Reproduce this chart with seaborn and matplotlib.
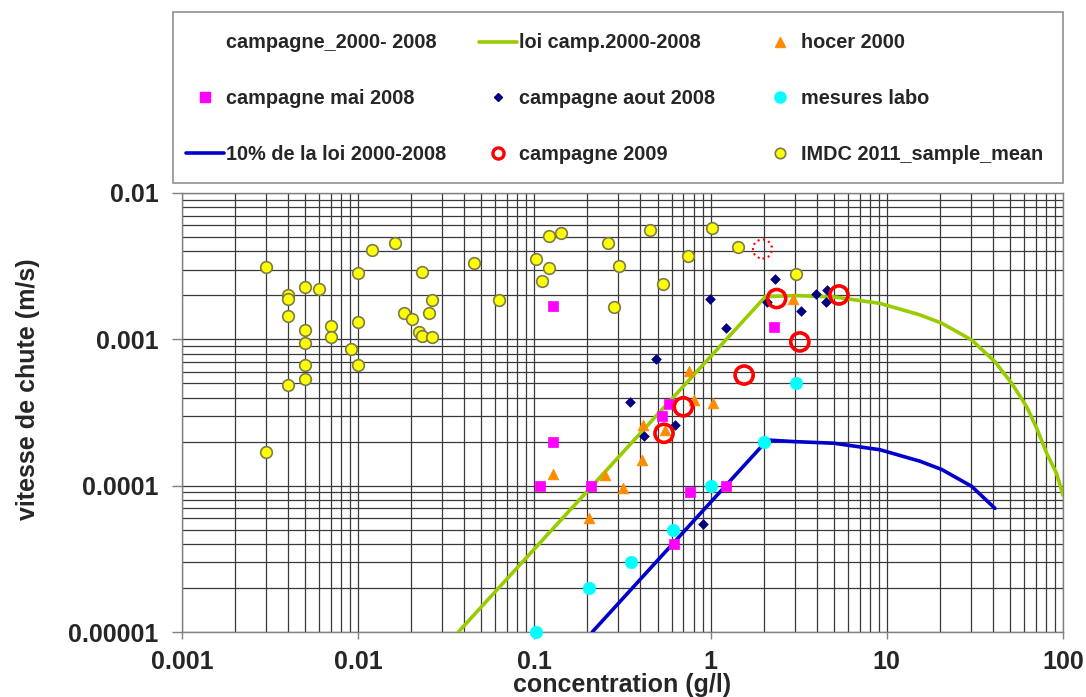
import matplotlib
matplotlib.use("Agg")
import matplotlib.pyplot as plt
from matplotlib.lines import Line2D
from matplotlib.patches import Rectangle
from matplotlib.ticker import LogLocator, NullFormatter
import seaborn as sns

sns.set_theme(style="white")
plt.rcParams['font.family'] = ['Liberation Sans', 'DejaVu Sans']
plt.rcParams['font.weight'] = 'bold'

# ---- settling law 2000-2008 (concentration g/l, settling velocity m/s)
law_c = [0.037, 2.05, 3.0, 5.0, 9.15, 15.4, 20.5, 30.3, 41.1, 51.2, 62.2, 71.0, 80.9, 92.0, 100.0]
law_w = [1.0e-5, 1.96e-3, 1.99e-3, 1.95e-3, 1.76e-3, 1.47e-3, 1.29e-3, 9.9e-4, 7.03e-4,
         5.0e-4, 3.46e-4, 2.46e-4, 1.66e-4, 1.21e-4, 8.6e-5]

# ---- 10 % of the law
law10_c = [0.213, 2.1, 3.0, 5.0, 9.15, 15.4, 20.5, 30.3, 41.1]
law10_w = [1.0e-5, 2.05e-4, 2.0e-4, 1.95e-4, 1.76e-4, 1.47e-4, 1.29e-4, 9.9e-5, 7.0e-5]

# ---- hocer 2000
hocer_c = [2.95, 0.75, 1.03, 0.80, 0.415, 0.55, 0.41, 0.127, 0.25, 0.32, 0.205]
hocer_w = [1.9e-3, 6.1e-4, 3.7e-4, 3.85e-4, 2.6e-4, 2.4e-4, 1.5e-4, 1.21e-4, 1.18e-4, 9.6e-5, 6.0e-5]

# ---- campagne mai 2008
mai_c = [0.127, 2.3, 0.128, 0.58, 0.53, 0.107, 0.21, 0.76, 1.22, 0.62]
mai_w = [1.7e-3, 1.21e-3, 2.0e-4, 3.6e-4, 3.0e-4, 1.0e-4, 1.0e-4, 9.0e-5, 1.0e-4, 4.0e-5]

# ---- campagne aout 2008
aout_c = [2.32, 2.08, 3.96, 4.56, 4.5, 3.26, 0.99, 1.22, 0.49, 0.35, 0.63, 0.42, 0.9]
aout_w = [2.58e-3, 1.81e-3, 2.03e-3, 2.17e-3, 1.79e-3, 1.55e-3, 1.9e-3, 1.19e-3, 7.3e-4,
          3.75e-4, 2.6e-4, 2.18e-4, 5.5e-5]

# ---- mesures labo
labo_c = [3.05, 2.02, 1.0, 0.61, 0.353, 0.203, 0.102]
labo_w = [5.05e-4, 2.0e-4, 1.0e-4, 5.0e-5, 3.0e-5, 2.0e-5, 1.0e-5]

# ---- campagne 2009
c2009_c = [2.37, 5.35, 3.21, 1.55, 0.70, 0.544]
c2009_w = [1.9e-3, 2.01e-3, 9.6e-4, 5.7e-4, 3.46e-4, 2.28e-4]
c2009_dotted_c = [1.97]
c2009_dotted_w = [4.14e-3]

# ---- IMDC 2011 sample mean
imdc_c = [0.003, 0.003, 0.004, 0.004, 0.004, 0.004, 0.005, 0.005, 0.005, 0.005, 0.005,
          0.006, 0.007, 0.007, 0.0091, 0.01, 0.01, 0.01, 0.012, 0.0162, 0.0183, 0.0203,
          0.0221, 0.0231, 0.0263, 0.0231, 0.0263, 0.0252, 0.0454, 0.063, 0.1017, 0.111,
          0.1216, 0.141, 0.1216, 0.263, 0.302, 0.283, 0.453, 0.747, 0.539, 1.014, 1.425, 3.04]
imdc_w = [3.13e-3, 1.71e-4, 2.01e-3, 1.89e-3, 1.45e-3, 4.9e-4, 2.29e-3, 1.16e-3, 9.5e-4,
          6.67e-4, 5.38e-4, 2.22e-3, 1.23e-3, 1.04e-3, 8.6e-4, 2.85e-3, 1.31e-3, 6.64e-4,
          4.06e-3, 4.53e-3, 1.51e-3, 1.37e-3, 1.13e-3, 1.06e-3, 1.04e-3, 2.87e-3, 1.86e-3,
          1.51e-3, 3.31e-3, 1.86e-3, 3.52e-3, 2.5e-3, 5.08e-3, 5.35e-3, 3.06e-3, 4.57e-3,
          3.17e-3, 1.67e-3, 5.59e-3, 3.71e-3, 2.39e-3, 5.79e-3, 4.3e-3, 2.79e-3]

x_ticks = [0.001, 0.01, 0.1, 1, 10, 100]
x_labels = ['0.001', '0.01', '0.1', '1', '10', '100']
y_ticks = [0.00001, 0.0001, 0.001, 0.01]
y_labels = ['0.00001', '0.0001', '0.001', '0.01']

W, H = 1086, 697
fig = plt.figure(figsize=(W / 100, H / 100), dpi=100)
ax = fig.add_axes([182 / W, 1 - 632 / H, (1063 - 182) / W, (632 - 193) / H])
ax.set_xscale('log')
ax.set_yscale('log')

GREEN = '#99CC00'
BLUE = '#0000CC'
ORANGE = '#FF8C00'
MAGENTA = '#FF00FF'
NAVY = '#000080'
CYAN = '#00FFFF'
RED = '#FF0000'
YELLOW = '#FFFF00'
YEDGE = '#7A7A4A'

sns.lineplot(x=law_c, y=law_w, sort=False, estimator=None, color=GREEN, linewidth=2.6,
             ax=ax, zorder=3)
sns.lineplot(x=law10_c, y=law10_w, sort=False, estimator=None, color=BLUE, linewidth=2.6,
             ax=ax, zorder=3)

sns.scatterplot(x=imdc_c, y=imdc_w, marker='o', s=70, color=YELLOW, edgecolor=YEDGE,
                linewidth=1.2, ax=ax, zorder=4)
sns.scatterplot(x=hocer_c, y=hocer_w, marker='^', s=60, color=ORANGE, edgecolor=ORANGE,
                linewidth=0.5, ax=ax, zorder=5)
sns.scatterplot(x=mai_c, y=mai_w, marker='s', s=55, color=MAGENTA, edgecolor=MAGENTA,
                linewidth=0.5, ax=ax, zorder=5)
sns.scatterplot(x=aout_c, y=aout_w, marker='D', s=24, color=NAVY, edgecolor=NAVY,
                linewidth=0.5, ax=ax, zorder=5)
sns.scatterplot(x=labo_c, y=labo_w, marker='o', s=80, color=CYAN, edgecolor=CYAN,
                linewidth=0.5, ax=ax, zorder=5, clip_on=False)
sns.scatterplot(x=c2009_c, y=c2009_w, marker='o', s=170, facecolor='none', edgecolor=RED,
                linewidth=2.6, ax=ax, zorder=6)
sns.scatterplot(x=c2009_dotted_c, y=c2009_dotted_w, marker='o', s=190, facecolor='none',
                edgecolor=RED, linewidth=1.5, linestyle=':', ax=ax, zorder=6)

ax.set_xlim(0.001, 100)
ax.set_ylim(0.00001, 0.01)

ax.xaxis.set_minor_locator(LogLocator(base=10, subs=range(2, 10), numticks=50))
ax.yaxis.set_minor_locator(LogLocator(base=10, subs=range(2, 10), numticks=50))
ax.xaxis.set_minor_formatter(NullFormatter())
ax.yaxis.set_minor_formatter(NullFormatter())
ax.set_xticks(x_ticks)
ax.set_xticklabels(x_labels)
ax.set_yticks(y_ticks)
ax.set_yticklabels(y_labels)

ax.grid(which='both', color='#3a3a3a', linewidth=0.9)
ax.set_axisbelow(True)
for sp in ax.spines.values():
    sp.set_color('#808080')
    sp.set_linewidth(1.0)

ax.tick_params(axis='y', which='major', left=True, length=7, width=1, color='#808080',
               labelsize=18, pad=10)
ax.tick_params(axis='y', which='minor', left=False)
ax.tick_params(axis='x', which='major', bottom=True, length=5, width=1, color='#808080',
               labelsize=18, pad=8)
ax.tick_params(axis='x', which='minor', bottom=False)
for lab in ax.get_xticklabels() + ax.get_yticklabels():
    lab.set_fontweight('bold')

ax.set_xlabel('concentration (g/l)', fontsize=18, fontweight='bold')
ax.xaxis.set_label_coords(0.5, -0.094)
ax.set_ylabel('vitesse de chute (m/s)', fontsize=18, fontweight='bold')
ax.yaxis.set_label_coords(-0.161, 0.553)

# ---- legend: a framed box holding three columns of entries
fig.add_artist(Rectangle((173 / W, 1 - 183 / H), (1063 - 173) / W, (183 - 12) / H,
                         transform=fig.transFigure, facecolor='white',
                         edgecolor='#909090', linewidth=1.2, zorder=1))


def mk(marker, face, edge, size, mew=1.0, ls='none'):
    return Line2D([], [], marker=marker, markerfacecolor=face, markeredgecolor=edge,
                  markersize=size, markeredgewidth=mew, linestyle=ls)


h_blank = Line2D([], [], linestyle='none', marker='none')
h_law = Line2D([], [], color=GREEN, linewidth=2.6)
h_law10 = Line2D([], [], color=BLUE, linewidth=2.6)
h_hocer = mk('^', ORANGE, ORANGE, 7)
h_mai = mk('s', MAGENTA, MAGENTA, 6.5)
h_aout = mk('D', NAVY, NAVY, 4.5)
h_labo = mk('o', CYAN, CYAN, 8)
h_2009 = mk('o', 'none', RED, 8, mew=2.4)
h_imdc = mk('o', YELLOW, YEDGE, 7.5, mew=1.2)

columns = [
    ([h_blank, h_mai, h_law10],
     ['campagne_2000- 2008', 'campagne mai 2008', '10% de la loi 2000-2008'], 186),
    ([h_law, h_aout, h_2009],
     ['loi camp.2000-2008', 'campagne aout 2008', 'campagne 2009'], 479),
    ([h_hocer, h_labo, h_imdc],
     ['hocer 2000', 'mesures labo', 'IMDC 2011_sample_mean'], 761),
]
for hs, ls_, x0 in columns:
    lg = fig.legend(hs, ls_, loc='upper left', bbox_to_anchor=(x0 / W, 1 - 33.5 / H),
                    frameon=False, borderpad=0, borderaxespad=0,
                    prop={'size': 14.3, 'weight': 'bold'},
                    handlelength=1.9, handletextpad=0.1, labelspacing=1.84)
    lg.set_zorder(2)

fig.savefig('out.png', dpi=100)
